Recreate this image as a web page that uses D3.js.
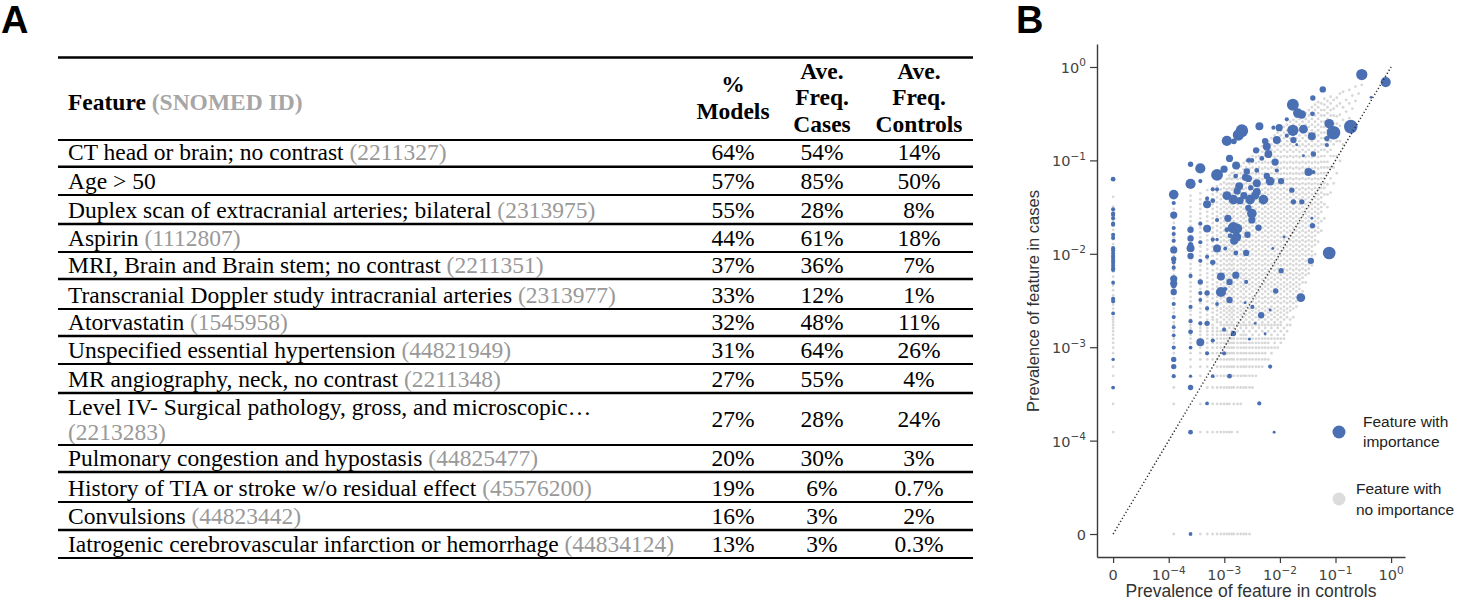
<!DOCTYPE html>
<html><head><meta charset="utf-8">
<script src="https://cdn.jsdelivr.net/npm/d3@7"></script>
<style>body{margin:0;background:#fff}svg{display:block}</style>
</head><body>
<svg id="fig" width="1459" height="600"></svg>
<script>
// ---------------- DATA ----------------
const tableFeatures = [
  "CT head or brain; no contrast",
  "Age > 50",
  "Duplex scan of extracranial arteries; bilateral",
  "Aspirin",
  "MRI, Brain and Brain stem; no contrast",
  "Transcranial Doppler study intracranial arteries",
  "Atorvastatin",
  "Unspecified essential hypertension",
  "MR angiography, neck, no contrast",
  "Level IV- Surgical pathology, gross, and microscopic…",
  "Pulmonary congestion and hypostasis",
  "History of TIA or stroke w/o residual effect",
  "Convulsions",
  "Iatrogenic cerebrovascular infarction or hemorrhage"
];
const tableIds = ["(2211327)", "", "(2313975)", "(1112807)", "(2211351)", "(2313977)", "(1545958)",
  "(44821949)", "(2211348)", "(2213283)", "(44825477)", "(45576200)", "(44823442)", "(44834124)"];
const pctModels = ["64%","57%","55%","44%","37%","33%","32%","31%","27%","27%","20%","19%","16%","13%"];
const freqCases = ["54%","85%","28%","61%","36%","12%","48%","64%","55%","28%","30%","6%","3%","3%"];
const freqControls = ["14%","50%","8%","18%","7%","1%","11%","26%","4%","24%","3%","0.7%","2%","0.3%"];
const headerFeature = "Feature";
const headerFeatureId = "(SNOMED ID)";
const headerCols = [["%", "Models"], ["Ave.", "Freq.", "Cases"], ["Ave.", "Freq.", "Controls"]];

const axisTickValues = [0, 1e-4, 1e-3, 1e-2, 1e-1, 1];
const axisTickExponents = [null, "−4", "−3", "−2", "−1", "0"];
const xAxisTitle = "Prevalence of feature in controls";
const yAxisTitle = "Prevalence of feature in cases";
const legendLabels = [["Feature with", "importance"], ["Feature with", "no importance"]];

// features with importance: [prevalence in controls, prevalence in cases, % of models]
const importantFeatures = [
 [0,0.063,8],[0,0.030,6],[0,0.027,6],[0,0.026,6],[0,0.024,6],[0,0.021,6],[0,0.0205,6],[0,0.016,6],[0,0.0148,6],
 [0,0.0115,6],[0,0.0109,6],[0,0.0102,6],[0,0.0095,6],[0,0.009,6],[0,0.0085,6],[0,0.008,6],[0,0.0075,6],[0,0.007,6],
 [0,0.0067,6],[0,0.0049,5],[0,0.0033,6],[0,0.0031,6],[0,0.0023,5],[0,7.4e-4,4],[0,3.7e-4,5],
 [1.23e-4,0.043,32],[1.23e-4,0.035,6],[1.23e-4,0.026,18],[1.23e-4,0.0189,6],[1.23e-4,0.0163,6],[1.23e-4,0.0138,6],
 [1.23e-4,0.011,18],[1.23e-4,0.0088,10],[1.23e-4,0.0081,6],[1.23e-4,0.0071,6],[1.23e-4,0.0054,18],[1.23e-4,0.0048,18],
 [1.23e-4,0.0045,8],[1.23e-4,0.0039,14],[1.23e-4,0.0029,6],[1.23e-4,0.0021,6],[1.23e-4,0.00164,5],[1.23e-4,0.00134,5],
 [1.23e-4,9.9e-4,6],[1.23e-4,7.4e-4,10],[1.23e-4,6.2e-4,10],[1.23e-4,4.9e-4,6],
 [2.47e-4,0.091,10],[2.47e-4,0.056,36],[2.47e-4,0.0181,14],[2.47e-4,0.0146,14],[2.47e-4,0.0125,10],[2.47e-4,0.0115,22],
 [2.47e-4,0.0095,14],[2.47e-4,0.0058,6],[2.47e-4,0.0027,6],[2.47e-4,0.0019,6],[2.47e-4,0.00146,8],[2.47e-4,9.9e-4,5],
 [2.47e-4,4.9e-4,4],[2.47e-4,3.7e-4,10],[2.47e-4,1.23e-4,8],[2.47e-4,0,5],
 [3.7e-4,0.082,36],[3.7e-4,0.060,6],[3.7e-4,0.021,6],[3.7e-4,0.0133,6],[3.7e-4,0.0084,6],[3.7e-4,0.005,10],
 [3.7e-4,0.0038,6],[3.7e-4,0.0032,5],[3.7e-4,0.0018,6],[3.7e-4,0.00113,22],
 [4.9e-4,0.039,6],[4.9e-4,0.034,22],[4.9e-4,0.0186,22],[4.9e-4,0.0093,6],[4.9e-4,0.0038,10],[4.9e-4,0.0026,6],
 [4.9e-4,0.0018,10],[4.9e-4,8.6e-4,6],[4.9e-4,2.5e-4,5],
 [6.2e-4,0.049,6],[6.2e-4,0.037,8],[6.2e-4,0.0142,6],[6.2e-4,0.0081,10],[6.2e-4,0.00118,6],[6.2e-4,4.9e-4,5],
 [7.4e-4,0.070,49],[7.4e-4,0.049,6],[7.4e-4,0.023,6],[7.4e-4,0.0114,22],[7.4e-4,0.0142,4],[7.4e-4,0.0029,5],
 [8.7e-4,0.0057,22],[8.7e-4,0.0039,36],
 [9.9e-4,0.0805,18],[9.9e-4,0.00154,6],[9.9e-4,8.6e-4,6],
 [1.04e-3,0.0042,6],[1.04e-3,0.0114,5],
 [1.11e-3,0.162,36],[1.11e-3,0.042,27],[1.11e-3,0.0181,8],
 [1.16e-3,0.024,18],
 [1.24e-3,0.105,18],[1.24e-3,0.005,14],[1.24e-3,0.0032,14],[1.24e-3,4.9e-4,8],
 [1.27e-3,0.0156,8],
 [1.46e-3,0.038,32],[1.46e-3,0.019,44],[1.46e-3,0.0014,10],
 [1.48e-3,0.16,12],[1.5e-3,0.0138,22],[1.6e-3,0.068,8],
 [1.61e-3,0.0102,8],[1.61e-3,0.0059,18],
 [1.63e-3,0.088,22],[1.65e-3,0.0151,32],[1.7e-3,0.047,18],[1.72e-3,0.0186,32],
 [1.79e-3,0.187,44],[1.85e-3,0.053,22],[1.92e-3,0.037,18],[2.07e-3,0.208,55],
 [2.25e-3,0.042,18],[2.37e-3,0.003,3],[2.4e-3,0.066,18],
 [2.47e-3,0.0102,14],[2.47e-3,0.005,6],
 [2.54e-3,0.076,14],[2.61e-3,0.016,14],
 [2.71e-3,0.064,18],[2.71e-3,0.031,14],[2.72e-3,0.10,8],
 [2.83e-3,0.00122,3],[2.91e-3,0.038,32],[2.99e-3,0.051,10],
 [3.13e-3,0.0998,8],[3.13e-3,0.027,32],[3.13e-3,0.023,18],
 [3.2e-3,0.0027,6],
 [3.58e-3,0.042,22],[3.58e-3,0.0018,3],
 [3.73e-3,0.128,14],
 [3.84e-3,0.078,8],[3.84e-3,0.057,22],[3.84e-3,0.046,22],
 [4.12e-3,0.019,14],[4.25e-3,2.5e-4,6],[4.28e-3,0.232,22],[4.59e-3,0.0022,14],[4.72e-3,0.105,8],
 [5.05e-3,0.038,32],
 [5.42e-3,0.161,14],[5.42e-3,0.00139,3],
 [5.81e-3,0.141,22],[5.81e-3,0.068,14],
 [6.21e-3,0.117,22],
 [6.67e-3,0.060,27],[6.67e-3,0.0025,3],[6.67e-3,6.2e-4,6],
 [7.45e-3,0.0114,3],[7.64e-3,0.224,6],[7.87e-3,1.23e-4,3],
 [8.2e-3,0.096,18],[8.4e-3,0.004,10],
 [8.8e-3,0.165,22],[8.8e-3,0.078,6],
 [9.7e-3,0.224,18],
 [1.05e-2,0.060,14],[1.05e-2,0.0066,10],
 [1.19e-2,0.0151,3],
 [1.33e-2,0.275,6],[1.33e-2,0.184,6],
 [1.64e-2,0.048,10],
 [1.71e-2,0.394,49],[1.71e-2,0.21,44],
 [1.75e-2,0.165,14],[1.75e-2,0.036,10],
 [2.01e-2,0.147,3],[2.1e-2,0.321,32],[2.38e-2,0.0034,27],
 [2.48e-2,0.31,24],[2.48e-2,0.036,10],
 [2.65e-2,0.216,27],[2.65e-2,0.112,3],
 [3.26e-2,0.075,22],[3.6e-2,0.0084,14],
 [3.75e-2,0.181,22],[3.75e-2,0.024,3],
 [3.85e-2,0.315,8],[3.85e-2,0.020,10],
 [3.91e-2,0.465,10],
 [4.0e-2,0.117,10],[4.0e-2,0.075,6],
 [5.9e-2,0.575,14],
 [7.0e-2,0.171,10],[7.0e-2,0.146,6],
 [7.7e-2,0.247,32],[7.7e-2,0.0102,55],
 [9.2e-2,0.198,64],[0.188,0.23,64],[0.297,0.83,44],[0.437,0.473,3],[0.80,0.69,36]
];

// features with no importance: patient counts (out of nPatients) — [controls count, [cases counts]]
const nPatients = 8100;
const greyColumns = [
 [0,[1,2,4,5,6,7,8,9,10,11,12,13,14,15,16,17,19,21,23,26,29,33,37,41,46,52,58,65,73,82,92,103,116,130,146,164,184,206,231,259,330]],
 [1,[0,2,3,5,6,7,8,9,10,11,12,13,14,15,17,19,21,24,27,30,34,38,43,48,54,61,68,77,86,97,109,122,137,154,173,194,218,245,280]],
 [2,[0,3,5,6,7,8,9,10,11,12,13,14,16,18,20,22,25,28,32,36,40,45,50,56,63,71,80,90,101,113,127,143,161,181,203,228,256,300,340]],
 [3,[0,1,2,4,5,6,7,8,9,10,11,12,13,14,15,17,19,21,24,27,30,34,38,43,48,54,61,68,77,86,97,109,122,137,154,173,194,218,245,275,310,360]],
 [4,[0,1,3,5,6,7,8,9,10,11,12,13,15,16,18,20,22,25,28,32,36,40,45,50,56,63,71,80,90,101,113,127,143,161,181,203,228,256,288,330,390]],
 [5,[0,1,2,3,4,6,7,8,9,10,11,12,13,14,16,17,19,21,24,27,30,34,38,43,48,54,61,68,77,86,97,109,122,137,154,173,194,218,245,275,310,350,410]],
 [6,[0,1,2,3,4,5,6,7,8,9,10,11,12,13,15,16,18,20,22,25,28,32,36,40,45,50,56,63,71,80,90,101,113,127,143,161,181,203,228,256,288,325,370,430]],
 [7,[0,1,2,3,4,5,6,7,8,9,10,11,12,14,15,17,19,21,24,27,30,34,38,43,48,54,61,68,77,86,97,109,122,137,154,173,194,218,245,275,310,350,395,450]],
 [8,[0,1,2,3,4,5,6,7,8,9,10,11,13,14,16,18,20,22,25,28,32,36,40,45,50,56,63,71,80,90,101,113,127,143,161,181,203,228,256,288,325,365,410,470]],
 [9,[0,1,2,3,4,5,6,7,8,9,10,11,12,14,15,17,19,21,24,27,30,34,38,43,48,54,61,68,77,86,97,109,122,137,154,173,194,218,245,275,310,350,395,450,510]],
 [10,[0,1,2,3,4,5,6,7,8,9,10,11,13,14,16,18,20,22,25,28,32,36,40,45,50,56,63,71,80,90,101,113,127,143,161,181,203,228,256,288,325,365,410,460,520,560]],
 [11,[0,1,3,4,5,6,7,8,9,10,11,12,14,15,17,19,21,24,27,30,34,38,43,48,54,61,68,77,86,97,109,122,137,154,173,194,218,245,275,310,350,395,450,510,590]],
 [12,[0,2,3,4,5,6,7,8,9,10,11,13,14,16,18,20,22,25,28,32,36,40,45,50,56,63,71,80,90,101,113,127,143,161,181,203,228,256,288,325,365,410,460,520,600]],
 [14,[0,1,2,3,4,5,6,7,8,9,10,12,14,15,17,19,21,24,27,30,34,38,43,48,54,61,68,77,86,97,109,122,137,154,173,194,218,245,275,310,350,395,450,510,580,660]],
 [16,[0,2,3,4,5,6,7,8,9,10,11,13,14,16,18,20,22,25,28,32,36,40,45,50,56,63,71,80,90,101,113,127,143,161,181,203,228,256,288,325,365,410,460,520,590,700]],
 [18,[0,3,4,5,6,7,8,9,10,11,12,14,15,17,19,21,24,27,30,34,38,43,48,54,61,68,77,86,97,109,122,137,154,173,194,218,245,275,310,350,395,450,510,580,650,760]],
 [20,[0,3,4,5,6,7,8,9,10,11,13,14,16,18,20,22,25,28,32,36,40,45,50,56,63,71,80,90,101,113,127,143,161,181,203,228,256,288,325,365,410,460,520,590,680,800]],
 [23,[0,3,4,5,6,7,8,9,10,12,14,15,17,19,21,24,27,30,34,38,43,48,54,61,68,77,86,97,109,122,137,154,173,194,218,245,275,310,350,395,450,510,580,660,750,860]],
 [26,[3,4,5,6,7,8,9,10,11,13,14,16,18,20,22,25,28,32,36,40,45,50,56,63,71,80,90,101,113,127,143,161,181,203,228,256,288,325,365,410,460,520,590,680,780,900]],
 [30,[4,5,6,7,8,9,10,12,14,15,17,19,21,24,27,30,34,38,43,48,54,61,68,77,86,97,109,122,137,154,173,194,218,245,275,310,350,395,450,510,580,660,760,880,1000]],
 [34,[5,6,7,8,9,10,11,13,14,16,18,20,22,25,28,32,36,40,45,50,56,63,71,80,90,101,113,127,143,161,181,203,228,256,288,325,365,410,460,520,590,680,780,900,1050]],
 [39,[5,6,7,8,9,10,12,14,15,17,19,21,24,27,30,34,38,43,48,54,61,68,77,86,97,109,122,137,154,173,194,218,245,275,310,350,395,450,510,580,660,760,880,1000,1150]],
 [44,[6,7,8,9,10,11,13,14,16,18,20,22,25,28,32,36,40,45,50,56,63,71,80,90,101,113,127,143,161,181,203,228,256,288,325,365,410,460,520,590,680,780,900,1050,1200]],
 [50,[6,8,9,10,12,14,15,17,19,21,24,27,30,34,38,43,48,54,61,68,77,86,97,109,122,137,154,173,194,218,245,275,310,350,395,450,510,580,660,760,880,1000,1150,1300]],
 [57,[7,8,10,11,13,14,16,18,20,22,25,28,32,36,40,45,50,56,63,71,80,90,101,113,127,143,161,181,203,228,256,288,325,365,410,460,520,590,680,780,900,1050,1200,1400]],
 [65,[8,9,10,12,14,15,17,19,21,24,27,30,34,38,43,48,54,61,68,77,86,97,109,122,137,154,173,194,218,245,275,310,350,395,450,510,580,660,760,880,1000,1150,1300,1500]],
 [74,[8,10,11,13,14,16,18,20,22,25,28,32,36,40,45,50,56,63,71,80,90,101,113,127,143,161,181,203,228,256,288,325,365,410,460,520,590,680,780,900,1050,1200,1400,1600]],
 [84,[9,10,12,14,15,17,19,21,24,27,30,34,38,43,48,54,61,68,77,86,97,109,122,137,154,173,194,218,245,275,310,350,395,450,510,580,660,760,880,1000,1150,1300,1500,1700]],
 [96,[10,11,13,16,18,20,22,25,28,32,36,40,45,50,56,63,71,80,90,101,113,127,143,161,181,203,228,256,288,325,365,410,460,520,590,680,780,900,1050,1200,1400,1600,1850]],
 [109,[12,14,17,19,21,24,27,30,34,38,43,48,54,61,68,77,86,97,109,122,137,154,173,194,218,245,275,310,350,395,450,510,580,660,760,880,1000,1150,1300,1500,1700,1950]],
 [124,[14,16,20,22,25,28,32,36,40,45,50,56,63,71,80,90,101,113,127,143,161,181,203,228,256,288,325,365,410,460,520,590,680,780,900,1050,1200,1400,1600,1850,2100]],
 [141,[17,21,24,27,30,34,38,43,48,54,61,68,77,86,97,109,122,137,154,173,194,218,245,275,310,350,395,450,510,580,660,760,880,1000,1150,1300,1500,1700,1950,2200]],
 [160,[22,25,28,32,36,40,45,50,56,63,71,80,90,101,113,127,143,161,181,203,228,256,288,325,365,410,460,520,590,680,780,900,1050,1200,1400,1600,1850,2100,2350]],
 [182,[27,30,34,38,43,48,54,61,68,77,86,97,109,122,137,154,173,194,218,245,275,310,350,395,450,510,580,660,760,880,1000,1150,1300,1500,1700,1950,2250]],
 [207,[32,40,45,50,56,63,71,80,90,101,113,127,143,161,181,203,228,256,288,325,365,410,460,520,590,680,780,900,1050,1200,1400,1600,1850,2100,2450]],
 [236,[40,48,54,61,68,77,86,97,109,122,137,154,173,194,218,245,275,310,350,395,450,510,580,660,760,880,1000,1150,1300,1500,1700,1950,2250,2600]],
 [268,[50,56,63,71,80,90,101,113,127,143,161,181,203,228,256,288,325,365,410,460,520,590,680,780,900,1050,1200,1400,1600,1850,2100,2450,2800]],
 [305,[61,77,86,97,109,122,137,154,173,194,218,245,275,310,350,395,450,510,580,660,760,880,1000,1150,1300,1500,1700,1950,2250,2600,3000]],
 [347,[80,101,113,127,143,161,181,203,228,256,288,325,365,410,460,520,590,680,780,900,1050,1200,1400,1600,1850,2100,2450,2800,3200]],
 [395,[109,137,154,173,194,218,245,275,310,350,395,450,510,580,660,760,880,1000,1150,1300,1500,1700,1950,2250,2600,3000,3400]],
 [449,[143,181,228,256,288,325,365,410,460,520,590,680,780,900,1050,1200,1400,1600,1850,2100,2450,2800,3300]],
 [511,[194,275,350,410,460,520,590,680,780,900,1050,1200,1400,1600,1850,2100,2450,2800,3200,3700]],
 [581,[256,350,450,590,680,780,1000,1150,1300,1500,1700,1950,2250,2600,3000,3500]],
 [661,[365,520,680,900,1050,1300,1500,1850,2100,2450,2800,3300,3900]],
 [752,[460,680,900,1200,1400,1700,2000,2450,2900,3600]],
 [855,[590,900,1300,1600,2000,2400,3100,3800]],
 [973,[800,1300,1900,2500,3300,4200]],
 [1107,[1200,2200,3000,4400]],
 [1259,[1700,2700,3600]],
 [1432,[2300,3300,4600]],
 [1629,[2900,4000]],
 [1853,[3500,5000]],
 [2108,[4200]],
 [2398,[5200]]
];

// ---------------- DRAWING ----------------
const svg = d3.select("#fig");
svg.append("rect").attr("width", 1459).attr("height", 600).attr("fill", "#fff");

// panel labels
const sans = "'Liberation Sans', Arial, sans-serif";
svg.append("text").attr("x", 1).attr("y", 33).text("A")
  .attr("font-family", sans).attr("font-weight", "bold").attr("font-size", 38).attr("fill", "#000");
svg.append("text").attr("x", 1016).attr("y", 33).text("B")
  .attr("font-family", sans).attr("font-weight", "bold").attr("font-size", 38).attr("fill", "#000");

// ---------- Panel A: table ----------
const serif = "'Liberation Serif', 'Times New Roman', serif";
const tbl = svg.append("g").attr("font-family", serif).attr("font-size", 23.5);
const tLeft = 58, tRight = 973, textLeft = 68;
const colX = [733, 822, 919];
const headerTop = 57.5, headerBottom = 140;
const rowBottoms = [166.7, 195, 224, 252, 279, 309, 336, 364, 393, 445, 472, 502, 530, 558];

tbl.append("line").attr("x1", tLeft).attr("x2", tRight).attr("y1", headerTop).attr("y2", headerTop)
  .attr("stroke", "#000").attr("stroke-width", 2.6);
tbl.append("line").attr("x1", tLeft).attr("x2", tRight).attr("y1", headerBottom).attr("y2", headerBottom)
  .attr("stroke", "#000").attr("stroke-width", 1.8);

const hf = tbl.append("text").attr("x", textLeft).attr("y", 110).attr("font-weight", "bold").attr("fill", "#000");
hf.append("tspan").text(headerFeature);
hf.append("tspan").attr("fill", "#a6a6a6").text(" " + headerFeatureId);

const headerBaselines = { 2: [92, 118.5], 3: [78.5, 105, 132] };
headerCols.forEach((lines, j) => {
  const bl = headerBaselines[lines.length];
  lines.forEach((ln, k) => {
    tbl.append("text").attr("x", colX[j]).attr("y", bl[k]).attr("text-anchor", "middle")
      .attr("font-weight", "bold").attr("fill", "#000").text(ln);
  });
});

tableFeatures.forEach((feat, i) => {
  const top = i === 0 ? headerBottom : rowBottoms[i - 1];
  const bottom = rowBottoms[i];
  const twoLine = (bottom - top) > 40;
  const base = bottom - 6.5;
  if (twoLine) {
    tbl.append("text").attr("x", textLeft).attr("y", top + 22).attr("fill", "#000").text(feat);
    tbl.append("text").attr("x", textLeft).attr("y", bottom - 5.5).attr("fill", "#999").text(tableIds[i]);
  } else {
    const t = tbl.append("text").attr("x", textLeft).attr("y", base).attr("fill", "#000");
    t.append("tspan").text(feat);
    if (tableIds[i]) t.append("tspan").attr("fill", "#999").text(" " + tableIds[i]);
  }
  const nb = twoLine ? (top + bottom) / 2 + 8 : base;
  [pctModels[i], freqCases[i], freqControls[i]].forEach((v, j) => {
    tbl.append("text").attr("x", colX[j]).attr("y", nb).attr("text-anchor", "middle").attr("fill", "#000").text(v);
  });
  tbl.append("line").attr("x1", tLeft).attr("x2", tRight).attr("y1", bottom).attr("y2", bottom)
    .attr("stroke", "#000").attr("stroke-width", i % 2 === 0 ? 2.4 : 1.8);
});

// ---------- Panel B: scatter ----------
// symmetric-log transform: linear below 1e-4, log above (one decade per unit)
const linthresh = 1e-4;
function symT(v) { return v < linthresh ? v / linthresh : 1 + Math.log10(v / linthresh); }
const x = d3.scaleLinear().domain([-0.29, 5.25]).range([1097, 1405]);
const y = d3.scaleLinear().domain([-0.246, 5.246]).range([557, 44]);
const rScale = d3.scaleSqrt().domain([0, 64]).range([0, 6.8]);

const plot = svg.append("g");

const greyPoints = greyColumns.flatMap(([c, ks]) => ks.map(k => [c / nPatients, k / nPatients]));
plot.append("g").selectAll("circle").data(greyPoints).join("circle")
  .attr("cx", d => x(symT(d[0]))).attr("cy", d => y(symT(d[1])))
  .attr("r", 1.4).attr("fill", "#d8d8d8");

const blueColor = "#4a70b3";
plot.append("g").selectAll("circle").data(importantFeatures).join("circle")
  .attr("cx", d => x(symT(d[0]))).attr("cy", d => y(symT(d[1])))
  .attr("r", d => rScale(d[2])).attr("fill", blueColor);

// identity line
plot.append("line")
  .attr("x1", x(symT(0))).attr("y1", y(symT(0))).attr("x2", x(symT(1))).attr("y2", y(symT(1)))
  .attr("stroke", "#333").attr("stroke-width", 1.5).attr("stroke-dasharray", "1.3,2.2");

// axes
const axisColor = "#3a3a3a";
const tickT = axisTickValues.map(symT);
const gx = svg.append("g").attr("transform", "translate(0,557)")
  .call(d3.axisBottom(x).tickValues(tickT).tickSize(6).tickSizeOuter(0).tickFormat(() => ""));
const gy = svg.append("g").attr("transform", "translate(1097,0)")
  .call(d3.axisLeft(y).tickValues(tickT).tickSize(7).tickSizeOuter(0).tickFormat(() => ""));
[gx, gy].forEach(g => {
  g.select(".domain").attr("stroke", axisColor).attr("stroke-width", 1.4);
  g.selectAll(".tick line").attr("stroke", axisColor).attr("stroke-width", 1.2);
});

const tickFont = "'DejaVu Sans', sans-serif";
function tickLabel(sel, i) {
  if (axisTickExponents[i] === null) { sel.text("0"); return; }
  sel.append("tspan").text("10");
  sel.append("tspan").attr("font-size", 10.5).attr("dy", -6.5).text(axisTickExponents[i]);
}
tickT.forEach((t, i) => {
  const tx = svg.append("text").attr("x", x(t)).attr("y", 580).attr("text-anchor", "middle")
    .attr("font-family", tickFont).attr("font-size", 14.5).attr("fill", "#444");
  tickLabel(tx, i);
  const ty = svg.append("text").attr("x", 1086).attr("y", y(t) + 6).attr("text-anchor", "end")
    .attr("font-family", tickFont).attr("font-size", 14.5).attr("fill", "#444");
  tickLabel(ty, i);
});

svg.append("text").attr("x", 1251).attr("y", 597).attr("text-anchor", "middle")
  .attr("font-family", sans).attr("font-size", 17.5).attr("fill", "#333").text(xAxisTitle);
svg.append("text").attr("transform", "translate(1039,301) rotate(-90)").attr("text-anchor", "middle")
  .attr("font-family", sans).attr("font-size", 16.5).attr("fill", "#333").text(yAxisTitle);

// legend
const legend = svg.append("g").attr("font-family", sans).attr("font-size", 15.5).attr("fill", "#222");
legend.append("circle").attr("cx", 1339).attr("cy", 432).attr("r", 6.5).attr("fill", blueColor);
legend.append("circle").attr("cx", 1339).attr("cy", 499).attr("r", 6.5).attr("fill", "#dcdcdc");
legend.append("text").attr("x", 1363).attr("y", 427).text(legendLabels[0][0]);
legend.append("text").attr("x", 1363).attr("y", 447).text(legendLabels[0][1]);
legend.append("text").attr("x", 1356).attr("y", 494).text(legendLabels[1][0]);
legend.append("text").attr("x", 1356).attr("y", 515).text(legendLabels[1][1]);
</script>
</body></html>
